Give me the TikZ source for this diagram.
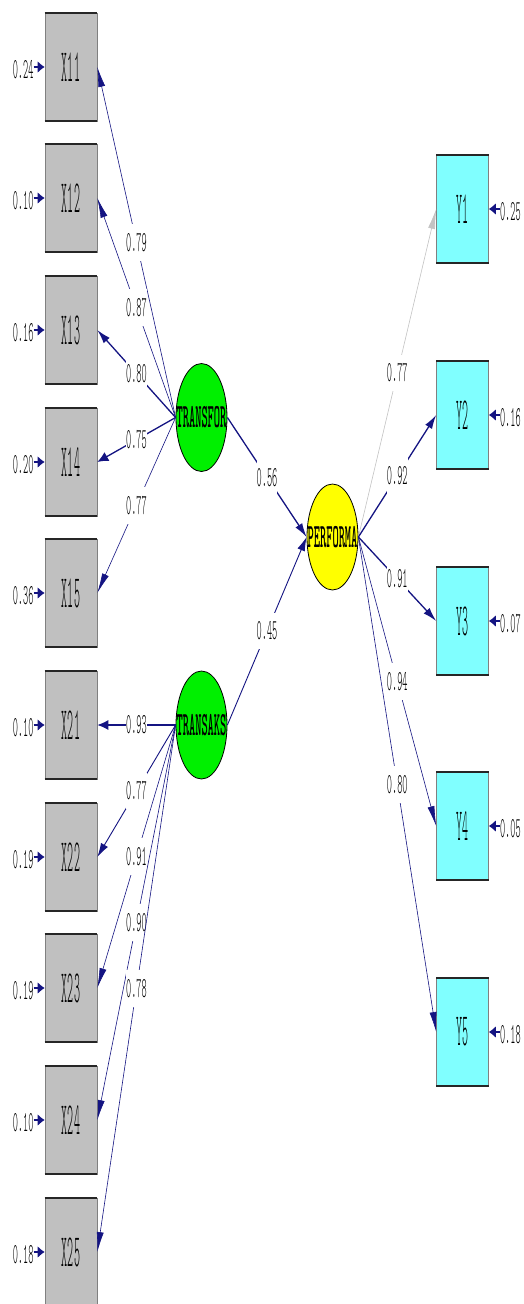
\documentclass[tikz,border=0pt]{standalone}
\usepackage{graphicx}
\usetikzlibrary{shapes.geometric,arrows.meta}
\definecolor{navyline}{RGB}{20,20,130}
\definecolor{lightline}{RGB}{195,195,195}
\definecolor{boxgray}{RGB}{192,192,192}
\definecolor{boxcyan}{RGB}{128,255,255}
\definecolor{lvgreen}{RGB}{0,240,0}
\definecolor{lvyellow}{RGB}{255,255,0}
\newcommand{\numtxt}[1]{\scalebox{0.34}[1]{\fontsize{29}{29}\ttfamily\fontseries{l}\selectfont #1}}
\newcommand{\obstxt}[1]{\scalebox{0.25}[1]{\fontsize{46}{46}\ttfamily\fontseries{l}\selectfont #1}}
\newcommand{\lvtxt}[1]{\scalebox{0.35}[1]{\fontsize{34}{34}\selectfont\ttfamily\bfseries #1}}
\begin{document}
\begin{tikzpicture}[x=1pt,y=-1pt,
  obs/.style={rectangle, draw=black!50, line width=0.6pt, fill=boxgray, minimum width=52pt, minimum height=108pt, inner sep=0pt},
  ind/.style={obs, fill=boxcyan},
  lat/.style={ellipse, draw=black, line width=0.8pt, minimum width=51pt, minimum height=108pt, inner sep=0pt},
  edgebar/.style={line width=1.8pt, black!85},
  lnk/.style={draw=navyline, line width=0.6pt},
  thk/.style={line width=1.3pt},
  med/.style={line width=0.9pt},
  ahS/.style={-{Latex[length=20pt,width=7pt]}},
  ahM/.style={-{Latex[length=14pt,width=8pt]}},
  ahF/.style={-{Latex[length=11pt,width=10pt]}},
  plab/.style={fill=white, inner xsep=0pt, inner ysep=9pt, text=black},
  errl/.style={inner sep=0pt, text=black},
  err/.style={draw=navyline, line width=2.6pt, -{Latex[length=7pt,width=12pt]}}
]
\path[use as bounding box, fill=white] (0,0) rectangle (524,1304);

% observed X variables
\foreach \n/\y/\e in {11/67/0.24,12/198/0.10,13/330/0.16,14/462/0.20,15/593/0.36,21/725/0.10,22/857/0.19,23/988/0.19,24/1120/0.10,25/1252/0.18}{
  \node[obs] (X\n) at (71,\y) {\obstxt{X\n}};
  \draw[edgebar] (X\n.north west) -- (X\n.north east);
  \draw[edgebar] (X\n.south west) -- (X\n.south east);
  \node[errl, anchor=east] (eX\n) at ([xshift=-11pt,yshift=-3pt]X\n.west) {\numtxt{\e}};
  \draw[err] (eX\n.east |- X\n.west) -- (X\n.west);
}

% observed Y variables
\foreach \n/\y/\e in {1/209/0.25,2/415/0.16,3/621/0.07,4/826/0.05,5/1032/0.18}{
  \node[ind] (Y\n) at (462.5,\y) {\obstxt{Y\n}};
  \draw[edgebar] (Y\n.north west) -- (Y\n.north east);
  \draw[edgebar] (Y\n.south west) -- (Y\n.south east);
  \node[errl, anchor=west] (eY\n) at ([xshift=11pt,yshift=-3pt]Y\n.east) {\numtxt{\e}};
  \draw[err] (eY\n.west |- Y\n.east) -- (Y\n.east);
}

% latent variables
\node[lat, fill=lvgreen] (TF) at (201.5,417.5) {};
\node[inner sep=0pt] (tTF) at (TF.center) {\lvtxt{TRANSFOR}};
\node[lat, fill=lvgreen] (TA) at (201.5,725) {};
\node[inner sep=0pt] (tTA) at (TA.center) {\lvtxt{TRANSAKS}};
\node[lat, fill=lvyellow, minimum height=106pt] (PF) at (332.5,537) {};
\node[inner sep=0pt] (tPF) at (PF.center) {\lvtxt{PERFORMA}};

% loadings TRANSFOR
\draw[lnk,ahS] (TF.west) -- node[plab] (l11) {\numtxt{0.79}} (X11.east);
\draw[lnk,ahS] (TF.west) -- node[plab] (l12) {\numtxt{0.87}} (X12.east);
\draw[lnk,thk,ahM] (TF.west) -- node[plab] (l13) {\numtxt{0.80}} (X13.east);
\draw[lnk,thk,ahF] (TF.west) -- node[plab] (l14) {\numtxt{0.75}} (X14.east);
\draw[lnk,ahS] (TF.west) -- node[plab] (l15) {\numtxt{0.77}} (X15.east);

% loadings TRANSAKS
\draw[lnk,thk,ahF] (TA.west) -- node[plab] (l21) {\numtxt{0.93}} (X21.east);
\draw[lnk,med,ahM] (TA.west) -- node[plab] (l22) {\numtxt{0.77}} (X22.east);
\draw[lnk,ahS] (TA.west) -- node[plab] (l23) {\numtxt{0.91}} (X23.east);
\draw[lnk,ahS] (TA.west) -- node[plab] (l24) {\numtxt{0.90}} (X24.east);
\draw[lnk,ahS] (TA.west) -- node[plab] (l25) {\numtxt{0.78}} (X25.east);

% structural paths
\draw[lnk,thk,ahM] (TF.east) -- node[plab] (g1) {\numtxt{0.56}} (PF.west);
\draw[lnk,med,ahM] (TA.east) -- node[plab] (g2) {\numtxt{0.45}} (PF.west);

% loadings PERFORMA
\draw[lnk,draw=lightline,ahS] (PF.east) -- node[plab] (m1) {\numtxt{0.77}} (Y1.west);
\draw[lnk,thk,ahM] (PF.east) -- node[plab] (m2) {\numtxt{0.92}} (Y2.west);
\draw[lnk,thk,ahM] (PF.east) -- node[plab] (m3) {\numtxt{0.91}} (Y3.west);
\draw[lnk,ahS] (PF.east) -- node[plab] (m4) {\numtxt{0.94}} (Y4.west);
\draw[lnk,ahS] (PF.east) -- node[plab] (m5) {\numtxt{0.80}} (Y5.west);
\end{tikzpicture}
\end{document}
